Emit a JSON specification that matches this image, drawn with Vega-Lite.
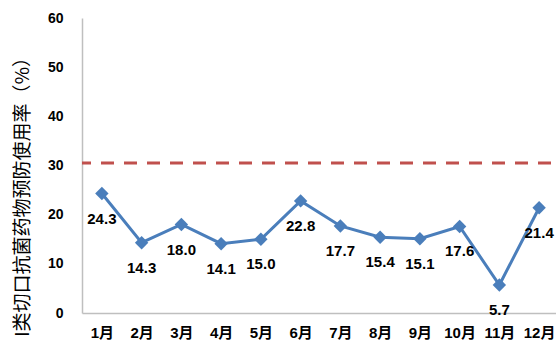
{
  "$schema": "https://vega.github.io/schema/vega-lite/v6.json",
  "autosize": "none",
  "width": 477,
  "height": 295,
  "padding": {"left": 82, "top": 18, "right": 0, "bottom": 32},
  "background": "white",
  "config": {
    "view": {"stroke": null},
    "font": "Liberation Sans, Noto Sans CJK SC"
  },
  "data": {
    "values": [
      {"month": "1月", "rate": 24.3, "target": 30.5},
      {"month": "2月", "rate": 14.3, "target": 30.5},
      {"month": "3月", "rate": 18.0, "target": 30.5},
      {"month": "4月", "rate": 14.1, "target": 30.5},
      {"month": "5月", "rate": 15.0, "target": 30.5},
      {"month": "6月", "rate": 22.8, "target": 30.5},
      {"month": "7月", "rate": 17.7, "target": 30.5},
      {"month": "8月", "rate": 15.4, "target": 30.5},
      {"month": "9月", "rate": 15.1, "target": 30.5},
      {"month": "10月", "rate": 17.6, "target": 30.5},
      {"month": "11月", "rate": 5.7, "target": 30.5},
      {"month": "12月", "rate": 21.4, "target": 30.5}
    ]
  },
  "encoding": {
    "x": {
      "field": "month",
      "type": "ordinal",
      "sort": null,
      "axis": {
        "title": null,
        "labelAngle": 0,
        "labelFont": "Liberation Sans, Noto Sans CJK SC",
        "labelFontSize": 15,
        "labelFontWeight": "bold",
        "labelColor": "#000000",
        "labelPadding": 12,
        "ticks": false,
        "domainColor": "#BFBFBF",
        "domainWidth": 1.5
      }
    }
  },
  "layer": [
    {
      "mark": {"type": "rule", "color": "#C0504D", "strokeWidth": 3, "strokeDash": [13, 10], "strokeDashOffset": -8},
      "encoding": {
        "x": null,
        "y": {"aggregate": "mean", "field": "target", "type": "quantitative"}
      }
    },
    {
      "mark": {
        "type": "line",
        "color": "#4A7EBB",
        "strokeWidth": 3,
        "point": {"shape": "diamond", "size": 180, "filled": true, "color": "#4A7EBB", "opacity": 1}
      },
      "encoding": {
        "y": {
          "field": "rate",
          "type": "quantitative",
          "scale": {"domain": [0, 60], "nice": false},
          "axis": {
            "values": [0, 10, 20, 30, 40, 50, 60],
            "grid": false,
            "ticks": false,
            "domainColor": "#BFBFBF",
            "domainWidth": 1.5,
            "labelFont": "Liberation Sans",
            "labelFontSize": 14,
            "labelFontWeight": "bold",
            "labelColor": "#000000",
            "labelPadding": 19,
            "title": "I类切口抗菌药物预防使用率（%）",
            "titleFont": "Noto Sans CJK SC",
            "titleFontSize": 19,
            "titleFontWeight": "normal",
            "titleColor": "#000000",
            "titleAngle": -90,
            "titleAlign": "center",
            "titleBaseline": "middle",
            "titleX": -60,
            "titleY": 174
          }
        }
      }
    },
    {
      "mark": {
        "type": "text",
        "dy": 25,
        "fontSize": 15,
        "fontWeight": "bold",
        "font": "Liberation Sans",
        "color": "#000000"
      },
      "encoding": {
        "y": {"field": "rate", "type": "quantitative"},
        "text": {"field": "rate", "type": "quantitative", "format": ".1f"}
      }
    }
  ]
}
